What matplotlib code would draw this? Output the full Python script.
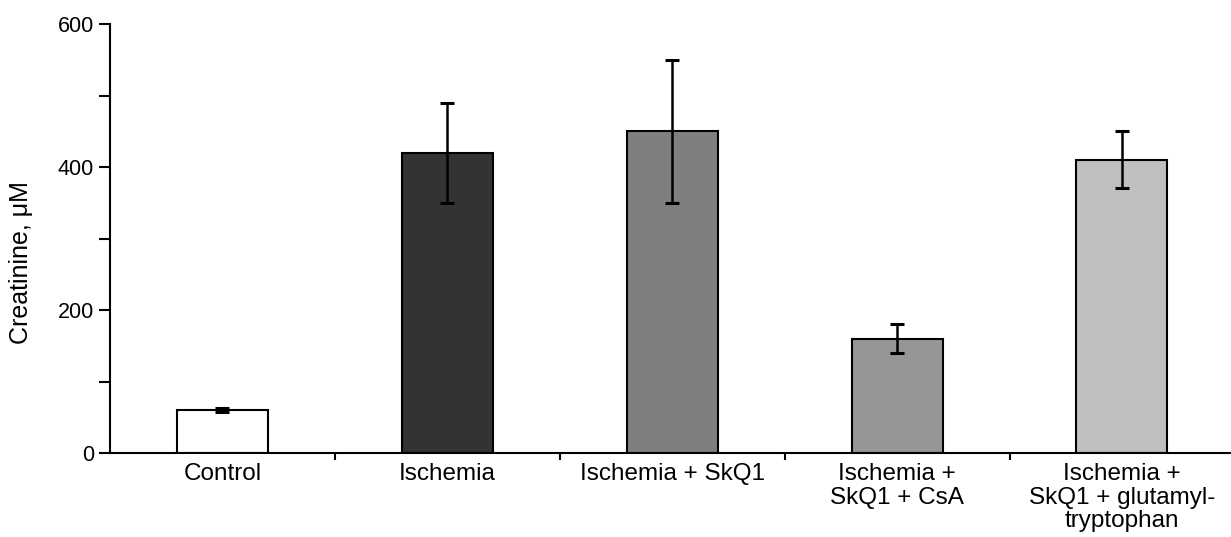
import numpy as np
import matplotlib.pyplot as plt

categories = ["Control", "Ischemia", "Ischemia + SkQ1",
              "Ischemia +\nSkQ1 + CsA", "Ischemia +\nSkQ1 + glutamyl-\ntryptophan"]
values = [60, 420, 450, 160, 410]
errors = [3, 70, 100, 20, 40]
colors = ["#ffffff", "#333333", "#7f7f7f", "#969696", "#c0c0c0"]

plt.rcParams["font.family"] = ["Liberation Sans", "DejaVu Sans"]

fig = plt.figure(figsize=(12.31, 5.37), dpi=100)
ax = fig.add_axes([0.0894, 0.1564, 1.0 - 0.0894, 0.9553 - 0.1564])

x = np.arange(len(categories))
ax.bar(x, values, width=0.405, color=colors, edgecolor="black", linewidth=1.5, zorder=2)
ax.errorbar(x, values, yerr=errors, fmt="none", ecolor="black",
            elinewidth=1.8, capsize=4.7, capthick=2.2, zorder=3)

ax.set_xlim(-0.5, 4.485)
ax.set_ylim(0, 600)

for s in ["top", "right"]:
    ax.spines[s].set_visible(False)
for s in ["left", "bottom"]:
    ax.spines[s].set_linewidth(1.5)

# y ticks: labelled majors, unlabelled minors
ax.set_yticks([0, 200, 400, 600])
ax.set_yticks([100, 300, 500], minor=True)
ax.tick_params(axis="y", which="both", direction="out", length=8, width=1.5,
               labelsize=15.5, pad=3.5)

# x ticks sit between the groups, labels under the bars
ax.set_xticks(x[:-1] + 0.5)
ax.set_xticklabels([])
ax.tick_params(axis="x", which="major", direction="out", length=5, width=1.5)
for xi, lab in zip(x, categories):
    ax.text(xi, -14, lab, ha="center", va="top", fontsize=17.5, linespacing=1.1,
            transform=ax.transData)

ax.set_ylabel("Creatinine, \u03bcM", fontsize=18)
ax.yaxis.set_label_coords(-0.069, 0.445)

fig.savefig("out.png", dpi=100)
